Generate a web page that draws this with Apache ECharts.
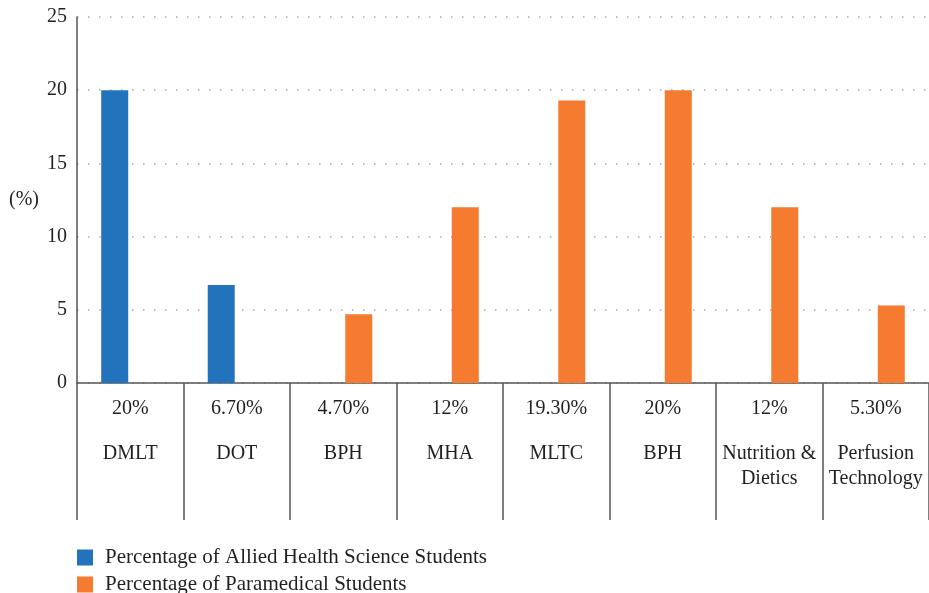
<!DOCTYPE html>
<html>
<head>
<meta charset="utf-8">
<script src="https://cdn.jsdelivr.net/npm/echarts@6/dist/echarts.min.js"></script>
<style>
  html, body { margin: 0; padding: 0; background: #fff; }
  #chart { width: 929px; height: 593px; }
</style>
</head>
<body>
<div id="chart"></div>
<script>
const categories = ['DMLT', 'DOT', 'BPH', 'MHA', 'MLTC', 'BPH', 'Nutrition &\nDietics', 'Perfusion\nTechnology'];
const valueLabels = ['20%', '6.70%', '4.70%', '12%', '19.30%', '20%', '12%', '5.30%'];
const alliedValues = [20, 6.7, null, null, null, null, null, null];
const paramedicalValues = [null, null, 4.7, 12, 19.3, 20, 12, 5.3];
const yTicks = [0, 5, 10, 15, 20, 25];
const seriesNames = ['Percentage of Allied Health Science Students', 'Percentage of Paramedical Students'];

const serif = 'Liberation Serif';
const axisColor = '#555';
const textColor = '#231f20';

// one legend per row so they stack like the original
function legendRow(name, top) {
  return {
    orient: 'vertical',
    left: 77,
    top: top,
    padding: 0,
    itemWidth: 16,
    itemHeight: 16,
    icon: 'rect',
    textStyle: { fontFamily: serif, fontSize: 21, color: textColor, padding: [0, 0, 0, 7] },
    data: [name]
  };
}

const chart = echarts.init(document.getElementById('chart'));
chart.setOption({
  animation: false,
  textStyle: { fontFamily: serif },
  grid: { left: 77, top: 17, width: 856, height: 366, containLabel: false },
  legend: [legendRow(seriesNames[0], 547), legendRow(seriesNames[1], 574)],
  xAxis: [
    {
      type: 'category',
      data: categories,
      position: 'bottom',
      axisLine: { lineStyle: { color: axisColor, width: 1.5 } },
      axisTick: { show: true, length: 137, lineStyle: { color: axisColor, width: 1.5 } },
      axisLabel: {
        interval: 0,
        margin: 58,
        fontFamily: serif,
        fontSize: 20,
        lineHeight: 25,
        color: textColor
      }
    },
    {
      type: 'category',
      data: valueLabels,
      position: 'bottom',
      axisLine: { show: false },
      axisTick: { show: false },
      axisLabel: {
        interval: 0,
        margin: 16,
        fontFamily: serif,
        fontSize: 20,
        color: textColor
      }
    }
  ],
  yAxis: {
    type: 'value',
    min: yTicks[0],
    max: yTicks[yTicks.length - 1],
    interval: 5,
    name: '(%)',
    nameLocation: 'middle',
    nameRotate: 0,
    nameGap: 38,
    nameTextStyle: { fontFamily: serif, fontSize: 20, color: textColor },
    axisLine: { show: true, lineStyle: { color: axisColor, width: 1.5 } },
    axisTick: { show: false },
    axisLabel: { margin: 10, fontFamily: serif, fontSize: 20, color: textColor },
    splitLine: { show: true, lineStyle: { color: '#aaa', type: [1.5, 9.5], width: 1.5 } }
  },
  series: [
    {
      name: seriesNames[0],
      type: 'bar',
      xAxisIndex: 0,
      data: alliedValues,
      barWidth: 27,
      barGap: '15%',
      itemStyle: { color: '#2372bc' }
    },
    {
      name: seriesNames[1],
      type: 'bar',
      xAxisIndex: 0,
      data: paramedicalValues,
      barWidth: 27,
      barGap: '15%',
      itemStyle: { color: '#f47b30' }
    }
  ]
});
</script>
</body>
</html>
